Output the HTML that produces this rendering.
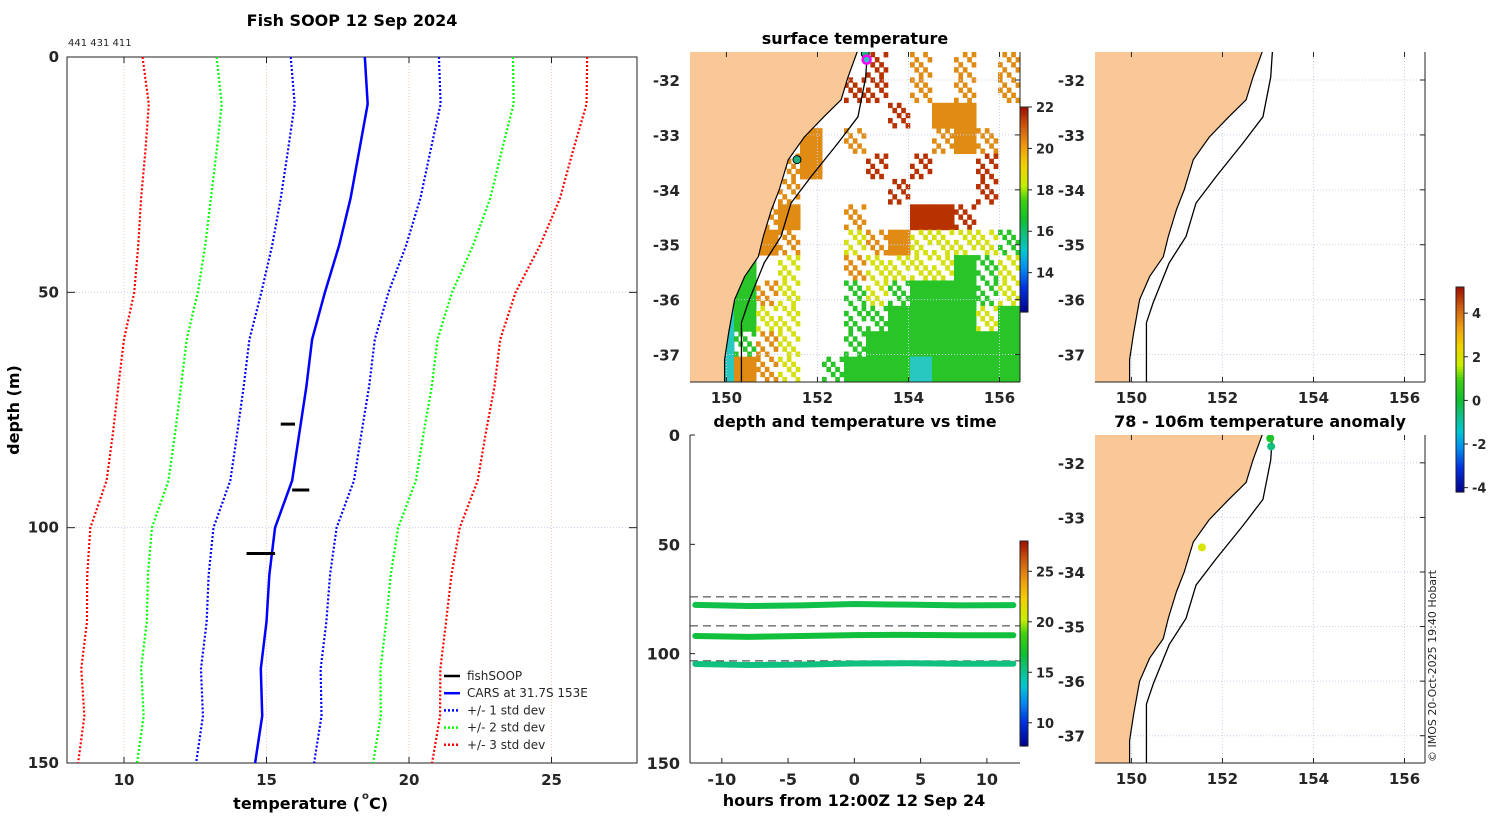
<!DOCTYPE html>
<html><head><meta charset="utf-8"><style>
body{margin:0;background:#fff;}
svg text{font-family:"DejaVu Sans","Liberation Sans",sans-serif;fill:#262626;}
.t{font-weight:bold;font-size:15px;}
.ttl{font-weight:bold;font-size:16px;fill:#000;}
</style></head><body>
<svg id="s" width="1500" height="820" xmlns="http://www.w3.org/2000/svg"></svg>
<script>
// ---- profile data ----
const depths=[0,10,20,30,40,50,60,70,80,90,100,110,120,130,140,150];
const meanT=[18.45,18.55,18.25,17.95,17.55,17.05,16.6,16.4,16.15,15.9,15.3,15.1,15.0,14.8,14.85,14.6];
const sdT=[2.6,2.56,2.5,2.45,2.35,2.23,2.2,2.2,2.18,2.17,2.16,2.13,2.1,2.1,2.08,2.07];
const fishDepth=[78,92,105.5];
const fishTmin=[15.5,15.9,14.3];
const fishTmax=[16.0,16.5,15.3];
const tempTicks=[10,15,20,25];
const depthTicks=[0,50,100,150];
// ---- time series data ----
const hours=[-12,-8,-4,0,4,8,12];
const band1=[77.7,78.2,77.9,77.3,77.6,77.9,77.8];
const band2=[91.9,92.3,91.9,91.5,91.4,91.6,91.6];
const band3=[104.7,105.2,105.0,104.5,104.4,104.6,104.6];
const bandTemp=[16.4,16.6,15.4];
const dashDepths=[74,87.3,103.3];
const hourTicks=[-10,-5,0,5,10];
// ---- map data ----
const coastLon=[152.89,152.67,152.52,152.14,151.71,151.36,151.16,150.99,150.81,150.70,150.40,150.18,150.05,149.96,149.96];
const coastLat=[-31.45,-31.95,-32.36,-32.67,-33.04,-33.45,-34.0,-34.36,-34.85,-35.22,-35.58,-36.0,-36.6,-37.09,-37.55];
const shelfLon=[153.10,153.06,152.89,152.45,151.86,151.42,151.2,150.83,150.48,150.33,150.33];
const shelfLat=[-31.45,-31.95,-32.67,-33.15,-33.76,-34.24,-34.85,-35.33,-36.05,-36.42,-37.55];
const lonTicks=[150,152,154,156];
const latTicks=[-32,-33,-34,-35,-36,-37];
const sstRows=["lllllll.r.o.o.o","llllll.rr.o.o.o","llllll...r.OO..","lllllO.o...oOo.","lllloO..r.r..r.","llllo....r...r.","llloO..o..RRr..","lllOo..yoOyyyyg","llG.y..oyyyyGgy","llGoy..gygGGGgy","lCGyy..ggGGGGyG","lCgoy..gGGGGGGG","lCOoy.gGGGCGGGG"];
const anomLon=[153.05,153.07,151.55];
const anomLat=[-31.55,-31.7,-33.55];
const anomVal=[0.3,-0.6,2.0];

const S=document.getElementById('s');
const NS='http://www.w3.org/2000/svg';
function el(tag,attrs,parent){const e=document.createElementNS(NS,tag);for(const k in attrs)e.setAttribute(k,attrs[k]);(parent||S).appendChild(e);return e;}
function txt(x,y,s,cls,anchor,parent){const e=el('text',{x:x,y:y,'class':cls||'t','text-anchor':anchor||'middle'},parent);e.textContent=s;return e;}
const cmStops=[[0,[0,0,138]],[0.12,[0,48,224]],[0.22,[0,144,240]],[0.3,[0,200,208]],[0.38,[16,192,128]],[0.45,[16,192,48]],[0.55,[64,208,16]],[0.62,[200,240,0]],[0.72,[240,208,0]],[0.8,[240,160,16]],[0.9,[208,96,16]],[1,[160,16,0]]];
function jet(v){v=Math.max(0,Math.min(1,v));for(let i=1;i<cmStops.length;i++){if(v<=cmStops[i][0]){const a=cmStops[i-1],b=cmStops[i];const f=(v-a[0])/(b[0]-a[0]);const c=a[1].map((x,k)=>Math.round(x+(b[1][k]-x)*f));return `rgb(${c[0]},${c[1]},${c[2]})`;}}return 'rgb(160,16,0)';}

// ===== Left profile plot =====
const L={l:67,r:637,t:57,b:763,t0:8,t1:28,d0:0,d1:150};
const px=t=>L.l+(t-L.t0)/(L.t1-L.t0)*(L.r-L.l);
const py=d=>L.t+(d-L.d0)/(L.d1-L.d0)*(L.b-L.t);
const gP=el('g',{});
tempTicks.forEach(t=>{const g=el('line',{x1:px(t),x2:px(t),y1:L.t,y2:L.b,stroke:'#e8c8b0','stroke-width':1,'stroke-dasharray':'1 2'},gP);
 el('line',{x1:px(t),x2:px(t),y1:L.t,y2:L.t+6,stroke:'#222'},gP);el('line',{x1:px(t),x2:px(t),y1:L.b,y2:L.b-6,stroke:'#222'},gP);
 const lb=txt(px(t),L.b+22,String(t),'t','middle',gP);});
depthTicks.forEach(d=>{const g=el('line',{x1:L.l,x2:L.r,y1:py(d),y2:py(d),stroke:'#c8d0e8','stroke-width':1,'stroke-dasharray':'1 2'},gP);
 el('line',{x1:L.l,x2:L.l+8,y1:py(d),y2:py(d),stroke:'#222'},gP);el('line',{x1:L.r,x2:L.r-8,y1:py(d),y2:py(d),stroke:'#222'},gP);
 const lb=txt(L.l-8,py(d)+5,String(d),'t','end',gP);});
el('rect',{x:L.l,y:L.t,width:L.r-L.l,height:L.b-L.t,fill:'none',stroke:'#222'},gP);
const sdColors={1:'#0000ff',2:'#00ff00',3:'#ff0000'};
[3,2,1].forEach(k=>[-1,1].forEach(sg=>{
 const p=el('polyline',{points:depths.map((d,i)=>px(meanT[i]+sg*k*sdT[i])+','+py(d)).join(' '),fill:'none',stroke:sdColors[k],'stroke-width':2.2,'stroke-dasharray':'2 2'},gP);
 }));
const ml=el('polyline',{points:depths.map((d,i)=>px(meanT[i])+','+py(d)).join(' '),fill:'none',stroke:'#0000ff','stroke-width':2.5},gP);

fishDepth.forEach((d,i)=>{const f=el('line',{x1:px(fishTmin[i]),x2:px(fishTmax[i]),y1:py(d),y2:py(d),stroke:'#000','stroke-width':3},gP);});
let e=txt(352,26,'Fish SOOP 12 Sep 2024','ttl','middle');
e=txt(68,46,'441 431 411','t','start');e.setAttribute('style','font-weight:normal;font-size:10px');
e=txt(360,809,'temperature (','ttl','end');
e=txt(362,799,'o','t','start');e.setAttribute('style','font-size:10px');
e=txt(369,809,' C)','ttl','start');
e=txt(0,0,'depth (m)','ttl','middle');e.setAttribute('transform','translate(19,410) rotate(-90)');
// legend
const lg=el('g',{});
const legItems=[['fishSOOP','#000',''],['CARS at 31.7S 153E','#0000ff',''],['+/- 1 std dev','#0000ff','2 2'],['+/- 2 std dev','#00ff00','2 2'],['+/- 3 std dev','#ff0000','2 2']];
legItems.forEach((it,i)=>{const y=676+i*17.2;el('line',{x1:444,x2:460,y1:y,y2:y,stroke:it[1],'stroke-width':2.5,'stroke-dasharray':it[2]},lg);
 const t=txt(467,y+4,it[0],'t','start',lg);t.setAttribute('style','font-weight:normal;font-size:12px');});

// ===== Time series =====
const T={l:690,r:1020,t:435,b:763,h0:-12.4,h1:12.5};
const tx=h=>T.l+(h-T.h0)/(T.h1-T.h0)*(T.r-T.l);
const ty=d=>T.t+d/150*(T.b-T.t);
const gT=el('g',{});
el('line',{x1:T.l,x2:T.l,y1:T.t,y2:T.b,stroke:'#222'},gT);el('line',{x1:T.l,x2:T.r,y1:T.b,y2:T.b,stroke:'#222'},gT);
depthTicks.forEach(d=>{el('line',{x1:T.l,x2:T.l+5,y1:ty(d),y2:ty(d),stroke:'#222'},gT);const t=txt(T.l-10,ty(d)+6,String(d),'t','end',gT);t.setAttribute('style','font-size:16px');});
hourTicks.forEach(h=>{el('line',{x1:tx(h),x2:tx(h),y1:T.b,y2:T.b-5,stroke:'#222'},gT);const t=txt(tx(h),T.b+22,String(h),'t','middle',gT);t.setAttribute('style','font-size:16px');});
dashDepths.forEach(d=>{const l=el('line',{x1:T.l,x2:T.r,y1:ty(d),y2:ty(d),stroke:'#333','stroke-dasharray':'8 5'},gT);});
const tcol=v=>jet((v-7.7)/(28-7.7));
[band1,band2,band3].forEach((b,i)=>{const p=el('polyline',{points:hours.map((h,j)=>tx(h)+','+ty(b[j])).join(' '),fill:'none',stroke:tcol(bandTemp[i]),'stroke-width':6,'stroke-linecap':'round'},gT);});
e=txt(855,427,'depth and temperature vs time','ttl','middle');
e=txt(854,806,'hours from 12:00Z 12 Sep 24','ttl','middle');
function colorbar(x,y0,y1,v0,v1,ticks,name){const g=el('g',{});
 const n=80;for(let i=0;i<n;i++){el('rect',{x:x,y:y1-(i+1)*(y1-y0)/n,width:8,height:(y1-y0)/n+0.6,fill:jet((i+0.5)/n)},g);}
 el('rect',{x:x,y:y0,width:8,height:y1-y0,fill:'none',stroke:'#222'},g);
 ticks.forEach(v=>{const yy=y1-(v-v0)/(v1-v0)*(y1-y0);el('line',{x1:x+8,x2:x+12,y1:yy,y2:yy,stroke:'#222'},g);const t=txt(x+16,yy+5,String(v),'t','start',g);t.setAttribute('style','font-size:13px');});}
colorbar(1020,541,746,7.7,28,[10,15,20,25],'time-colorbar');

// ===== Maps =====
function makeMap(box,name,withSST){
 const X=lon=>box.l+(lon-149.2)/(156.45-149.2)*(box.r-box.l);
 const Y=lat=>box.t+(-31.49-lat)/(37.5-31.49)*(box.b-box.t);
 const g=el('g',{});
 const cid='clip'+name;const cp=el('clipPath',{id:cid},g);el('rect',{x:box.l,y:box.t,width:box.r-box.l,height:box.b-box.t},cp);
 const inner=el('g',{'clip-path':'url(#'+cid+')'},g);
 if(withSST){const cols={o:'#e08c14',r:'#b83200',y:'#d4e010',g:'#28c428',c:'#28c8c0'};
  const nr=sstRows.length,nc=sstRows[0].length,cw=(box.r-box.l)/nc,ch=(box.b-box.t)/nr;
  const sub=5,sw=cw/sub,sh=ch/sub;
  sstRows.forEach((row,i)=>[...row].forEach((c,j)=>{const lc=c.toLowerCase();if(!cols[lc])return;
   if(c!==lc){el('rect',{x:box.l+j*cw,y:box.t+i*ch,width:cw+0.5,height:ch+0.5,fill:cols[lc]},inner);}
   else{for(let a=0;a<sub;a++)for(let b=0;b<sub;b++){if((a*2+b*3+i+j)%5<2)el('rect',{x:box.l+j*cw+a*sw,y:box.t+i*ch+b*sh,width:sw+0.3,height:sh+0.3,fill:cols[lc]},inner);}}}));}
 lonTicks.forEach(v=>el('line',{x1:X(v),x2:X(v),y1:box.t,y2:box.b,stroke:'#c8d0e8','stroke-dasharray':'1 2'},inner));
 latTicks.forEach(v=>el('line',{x1:box.l,x2:box.r,y1:Y(v),y2:Y(v),stroke:'#c8d0e8','stroke-dasharray':'1 2'},inner));
 const pts=coastLon.map((lo,i)=>X(lo)+','+Y(coastLat[i])).join(' ');
 const land=el('polygon',{points:pts+' '+(box.l-5)+','+(box.b+5)+' '+(box.l-5)+','+(box.t-5),fill:'#fac896',stroke:'#000','stroke-width':1.2},inner);
 
 const shl=el('polyline',{points:shelfLon.map((lo,i)=>X(lo)+','+Y(shelfLat[i])).join(' '),fill:'none',stroke:'#000','stroke-width':1.3},inner);
 
 el('line',{x1:box.l,x2:box.r,y1:box.b,y2:box.b,stroke:'#222'},g);el('line',{x1:box.r,x2:box.r,y1:box.t,y2:box.b,stroke:'#222'},g);
 lonTicks.forEach(v=>{el('line',{x1:X(v),x2:X(v),y1:box.b,y2:box.b-5,stroke:'#222'},g);el('line',{x1:X(v),x2:X(v),y1:box.t,y2:box.t+5,stroke:'#222'},g);const t=txt(X(v),box.b+21,String(v),'t','middle',g);t.setAttribute('style','font-size:15px');});
 latTicks.forEach(v=>{el('line',{x1:box.r,x2:box.r-5,y1:Y(v),y2:Y(v),stroke:'#222'},g);const t=txt(box.l-10,Y(v)+6,String(v),'t','end',g);t.setAttribute('style','font-size:15px');});
 return {X,Y,g:inner};}
const m1=makeMap({l:690,r:1020,t:52,b:382},'sst-map',true);
[[153.05,-31.52,'#20b080','#000'],[153.08,-31.63,'#20c8c0','#ff00ff'],[151.55,-33.45,'#20b080','#000']].forEach(p=>{const c=el('circle',{cx:m1.X(p[0]),cy:m1.Y(p[1]),r:4,fill:p[2],stroke:p[3],'stroke-width':p[3]=='#000'?1:2.5},m1.g);});
colorbar(1020,107,312,12.1,22,[14,16,18,20,22],'sst-colorbar');
e=txt(855,44,'surface temperature','ttl','middle');
makeMap({l:1095,r:1425,t:52,b:382},'track-map',false);
const m3=makeMap({l:1095,r:1425,t:435,b:763},'anomaly-map',false);
anomLon.forEach((lo,i)=>{const c=el('circle',{cx:m3.X(lo),cy:m3.Y(anomLat[i]),r:4,fill:jet((anomVal[i]+4.2)/9.4)},m3.g);});
e=txt(1260,427,'78 - 106m temperature anomaly','ttl','middle');
colorbar(1456,287,492,-4.2,5.2,[-4,-2,0,2,4],'anomaly-colorbar');
e=txt(0,0,'© IMOS 20-Oct-2025 19:40 Hobart','t','start');e.setAttribute('style','font-weight:normal;font-size:11px');e.setAttribute('transform','translate(1436,762) rotate(-90)');
</script>
</body></html>
